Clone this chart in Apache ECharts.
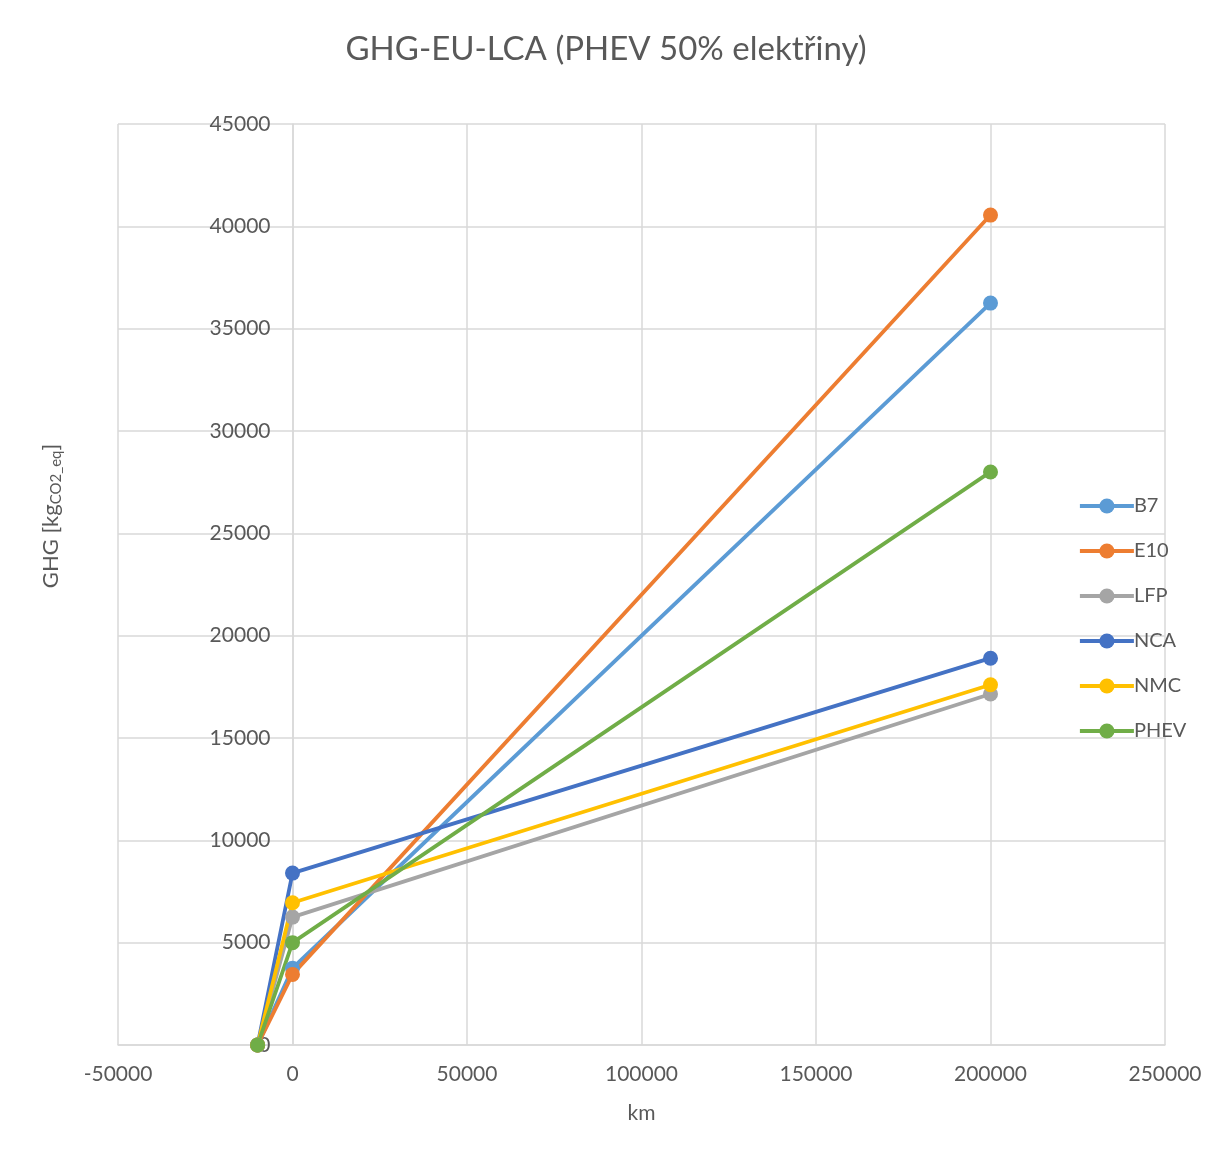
<!DOCTYPE html>
<html>
<head>
<meta charset="utf-8">
<script src="https://cdn.jsdelivr.net/npm/echarts@6/dist/echarts.min.js"></script>
<style>
  html, body { margin: 0; padding: 0; background: #fff; }
  #main { width: 1212px; height: 1160px; }
</style>
</head>
<body>
<div id="main"></div>
<script>
  // km points: production (before use), 0 km, 200000 km
  var kmPoints = [-10000, 0, 200000];
  var seriesNames = ['B7', 'E10', 'LFP', 'NCA', 'NMC', 'PHEV'];
  var B7 = [0, 3750, 36250];
  var E10 = [0, 3450, 40550];
  var LFP = [0, 6250, 17150];
  var NCA = [0, 8400, 18900];
  var NMC = [0, 6950, 17600];
  var PHEV = [0, 5000, 28000];
  var colors = ['#5b9bd5', '#ed7d31', '#a5a5a5', '#4472c4', '#ffc000', '#70ad47'];

  var dom = document.getElementById('main');
  var myChart = echarts.init(dom, null, { renderer: 'canvas' });

  var values = [B7, E10, LFP, NCA, NMC, PHEV];
  var series = [];
  for (var i = 0; i < seriesNames.length; i++) {
    var pts = [];
    for (var k = 0; k < kmPoints.length; k++) {
      pts.push([kmPoints[k], values[i][k]]);
    }
    series.push({
      name: seriesNames[i],
      type: 'line',
      data: pts,
      symbol: 'circle',
      symbolSize: 15,
      lineStyle: { width: 3.8, color: colors[i] },
      itemStyle: { color: colors[i] },
      animation: false
    });
  }

  var txt = '#595959';
  var font = 'Lato, "Open Sans", sans-serif';
  var plain = function (v) { return String(v); };

  var option = {
    backgroundColor: '#fff',
    title: {
      text: 'GHG-EU-LCA (PHEV 50% elektřiny)',
      left: 'center',
      top: 28,
      textStyle: { color: txt, fontSize: 33, fontWeight: 'normal', fontFamily: font }
    },
    legend: {
      orient: 'vertical',
      left: 1073,
      top: 491,
      itemWidth: 54,
      itemHeight: 19,
      itemGap: 25,
      lineStyle: { width: 3.8 },
      textStyle: { color: txt, fontSize: 20, fontFamily: font, padding: [0, 0, 0, -5] },
      data: seriesNames
    },
    grid: { left: 118, right: 47, top: 124, bottom: 115 },
    xAxis: {
      type: 'value',
      min: -50000,
      max: 250000,
      interval: 50000,
      name: 'km',
      nameLocation: 'middle',
      nameGap: 58,
      nameTextStyle: { color: txt, fontSize: 21, fontFamily: font },
      axisLine: { lineStyle: { color: '#d9d9d9', width: 1.5 } },
      axisTick: { show: false },
      axisLabel: { color: txt, fontSize: 21, fontFamily: font, margin: 19, formatter: plain },
      splitLine: { lineStyle: { color: '#d9d9d9', width: 1.5 } }
    },
    yAxis: {
      type: 'value',
      min: 0,
      max: 45000,
      interval: 5000,
      position: 'left',
      offset: -174.5,
      axisLine: { show: true, onZero: false, lineStyle: { color: '#d9d9d9', width: 1.5 } },
      axisTick: { show: false },
      axisLabel: { color: txt, fontSize: 21, fontFamily: font, margin: 22, formatter: plain },
      splitLine: { lineStyle: { color: '#d9d9d9', width: 1.5 } }
    },
    graphic: [
      {
        type: 'text',
        x: 51,
        y: 516,
        rotation: Math.PI / 2,
        style: {
          text: '{a|GHG [kg}{b|CO2_eq}{a|]}',
          align: 'center',
          verticalAlign: 'middle',
          rich: {
            a: { fill: txt, fontSize: 22, fontFamily: font, lineHeight: 28 },
            b: { fill: txt, fontSize: 15, fontFamily: font, lineHeight: 28, padding: [11, 0, 0, 0] }
          }
        }
      }
    ],
    series: series
  };

  myChart.setOption(option);
</script>
</body>
</html>
